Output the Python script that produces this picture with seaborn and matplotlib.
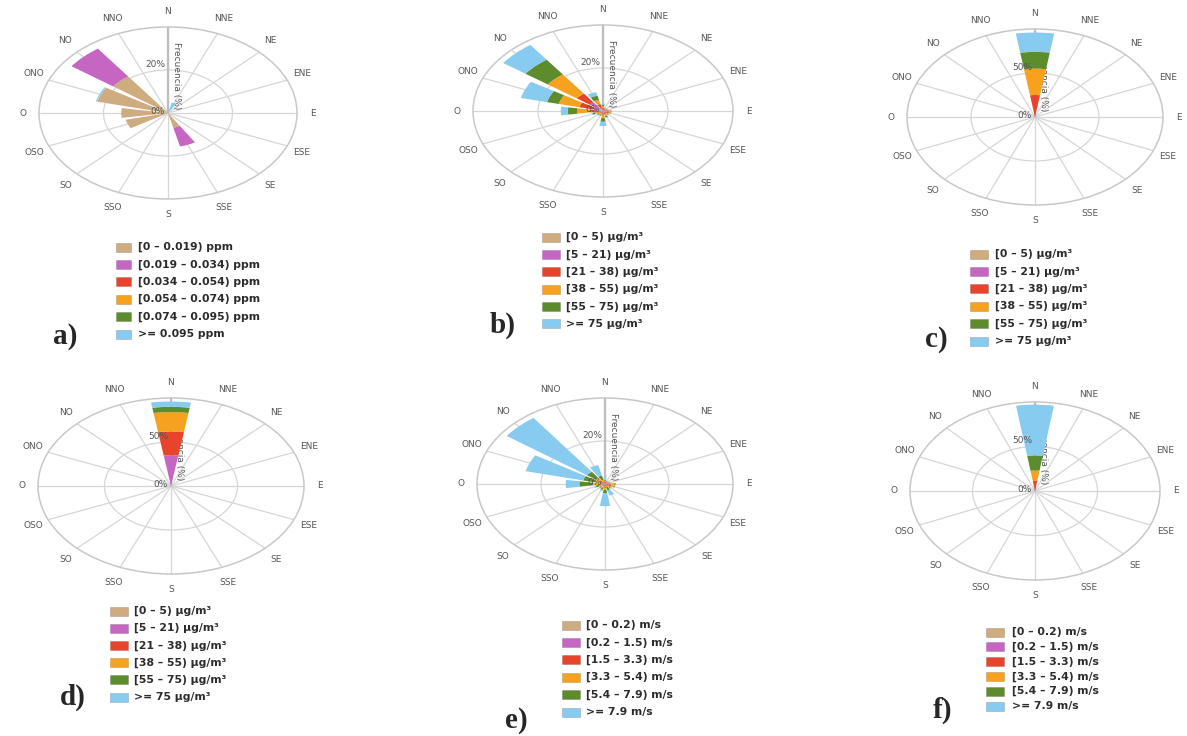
import numpy as np
import matplotlib
matplotlib.use("Agg")
import matplotlib.pyplot as plt
from matplotlib.patches import Rectangle
import seaborn as sns

sns.set_style("white")
plt.rcParams['font.family'] = ['DejaVu Sans']

W, H = 1187, 736

direcciones = ["N", "NNE", "NE", "ENE", "E", "ESE", "SE", "SSE",
               "S", "SSO", "SO", "OSO", "O", "ONO", "NO", "NNO"]
colores = ["#CFAB80", "#C566C3", "#E8432B", "#F6A21E", "#5C8C2C", "#88CBF0"]
paleta = sns.color_palette(colores)

# cada fila: [clase1 .. clase6] en % para la direccion indicada
# a) ppm
a_dirs = ["NNE", "ONO", "NO", "O", "OSO", "SSE"]
a_vals = [[0, 0, 0, 0, 0, 5],
          [22.5, 0, 0, 0, 0, 0.5],
          [21, 16, 0, 0, 0, 0],
          [14.5, 0, 0, 0, 0, 0],
          [13.5, 0, 0, 0, 0, 0],
          [7, 9, 0, 0, 0, 0]]
a_leyenda = ["[0 – 0.019) ppm", "[0.019 – 0.034) ppm", "[0.034 – 0.054) ppm",
             "[0.054 – 0.074) ppm", "[0.074 – 0.095) ppm", ">= 0.095 ppm"]

# b) ug/m3
b_dirs = ["N", "NNE", "NE", "ENE", "E", "ESE", "SE", "SSE", "S", "SSO", "SO", "OSO", "O", "ONO", "NO", "NNO"]
b_vals = [[0.3, 0.5, 0.7, 0.8, 0.5, 0.4],
          [0.2, 0.4, 0.4, 0.3, 0.2, 0],
          [0.2, 0.4, 0.4, 0.3, 0.2, 0],
          [0.2, 0.4, 0.4, 0.3, 0.2, 0],
          [0.3, 0.8, 0.8, 0.5, 0.2, 0],
          [0.3, 0.8, 0.8, 0.5, 0.2, 0],
          [0.3, 0.5, 0.7, 0.5, 0.3, 0],
          [0.3, 0.5, 0.8, 0.8, 0.6, 0.3],
          [0.3, 0.5, 1, 1.5, 1.7, 2],
          [0.2, 0.4, 0.6, 0.6, 0.5, 0.2],
          [0.2, 0.4, 0.6, 0.6, 0.5, 0.2],
          [0.3, 0.5, 0.8, 1, 0.8, 0.3],
          [0.5, 1.5, 2, 4, 2.8, 2.2],
          [1, 2, 4.5, 6.5, 3.7, 8.3],
          [1.5, 3.5, 5, 11, 8.5, 8.5],
          [0.3, 1, 2, 2, 2, 1.7]]
ug_leyenda = ["[0 – 5) µg/m³", "[5 – 21) µg/m³", "[21 – 38) µg/m³",
              "[38 – 55) µg/m³", "[55 – 75) µg/m³", ">= 75 µg/m³"]

# c) ug/m3
c_dirs = ["N"]
c_vals = [[0.5, 1.5, 23, 30, 19, 22]]

# d) ug/m3
d_dirs = ["N"]
d_vals = [[1, 34, 27, 22, 6, 6]]

# e) m/s
e_dirs = ["N", "NNE", "NE", "ENE", "E", "ESE", "SE", "SSE", "S", "SSO", "SO", "OSO", "O", "ONO", "NO", "NNO"]
e_vals = [[0.2, 0.3, 0.5, 0.5, 0.5, 1],
          [0.2, 0.3, 0.4, 0.3, 0.2, 0.2],
          [0.2, 0.3, 0.4, 0.3, 0.2, 0.2],
          [0.2, 0.3, 0.4, 0.3, 0.2, 0.2],
          [0.3, 0.5, 1.2, 1, 0.3, 0],
          [0.3, 0.5, 1.2, 1, 0.3, 0],
          [0.2, 0.3, 0.8, 0.5, 0.5, 0.5],
          [0.2, 0.3, 0.5, 0.5, 1.5, 2.5],
          [0.3, 0.5, 1, 1, 1.5, 6],
          [0.2, 0.3, 0.5, 0.8, 1, 0.5],
          [0.2, 0.3, 0.5, 0.7, 0.5, 0.3],
          [0.2, 0.3, 0.5, 1, 1, 0.5],
          [0.3, 0.5, 1, 2, 4.2, 4.3],
          [0.3, 0.5, 1, 1.7, 3.5, 18.5],
          [0.5, 0.5, 1, 1.5, 3.5, 31],
          [0.2, 0.3, 0.5, 1, 2, 5]]
ms_leyenda = ["[0 – 0.2) m/s", "[0.2 – 1.5) m/s", "[1.5 – 3.3) m/s",
              "[3.3 – 5.4) m/s", "[5.4 – 7.9) m/s", ">= 7.9 m/s"]

# f) m/s
f_dirs = ["N"]
f_vals = [[0.5, 1, 10, 11.5, 17, 57]]


fig = plt.figure(figsize=(W / 100, H / 100), dpi=100)


def rosa(cx, cy, rx, ry, dirs, vals, rmax, anillo):
    ax = fig.add_axes([(cx - rx) / W, 1 - (cy + ry) / H, 2 * rx / W, 2 * ry / H], projection="polar")
    ax.set_theta_zero_location("N")
    ax.set_theta_direction(-1)
    theta = np.radians(np.arange(16) * 22.5)
    tabla = np.zeros((16, 6))
    for d, v in zip(dirs, vals):
        tabla[direcciones.index(d)] = v
    base = np.zeros(16)
    for k in range(6):
        ax.bar(theta, tabla[:, k], width=np.radians(22.5) * 0.8, bottom=base,
               color=paleta[k], linewidth=0, zorder=3)
        base = base + tabla[:, k]
    ax.set_ylim(0, rmax)
    ax.set_yticks([rmax / 2])
    ax.set_yticklabels([])
    ax.set_thetagrids(np.arange(16) * 22.5, labels=direcciones)
    ax.tick_params(axis="x", labelsize=6.5, colors="#555555", pad=1)
    ax.grid(color="#d6d6d6", lw=0.9)
    ax.spines["polar"].set_color("#c8c8c8")
    ax.spines["polar"].set_linewidth(1.1)
    ax.plot([0, 0], [0, rmax], color="#bdbdbd", lw=1.6, zorder=2)
    ax.set_aspect("auto")
    ax.annotate(anillo, xy=(0, rmax / 2), xytext=(-2, 1), textcoords="offset points",
                ha="right", va="bottom", fontsize=6.5, color="#555555", zorder=5)
    ax.annotate("0%", xy=(0, 0), xytext=(-2, 1), textcoords="offset points",
                ha="right", va="center", fontsize=6.5, color="#555555", zorder=5)
    ax.annotate("Frecuencia (%)", xy=(0, rmax * 0.83), xytext=(3, 0), textcoords="offset points",
                ha="left", va="top", rotation=-90, fontsize=6.5, color="#555555", zorder=2.5)
    return ax


def leyenda(sx, sw, tx, y0, dy, etiquetas):
    for k, lab in enumerate(etiquetas):
        y = y0 + k * dy
        fig.patches.append(Rectangle((sx / W, 1 - (y + 4.5) / H), sw / W, 9 / H,
                                     transform=fig.transFigure, facecolor=colores[k],
                                     edgecolor="#00000033", lw=0.5))
        fig.text(tx / W, 1 - y / H, lab, fontsize=7.8, fontweight="bold", color="#2b2b2b", va="center")


def letra(x, y, t):
    fig.text(x / W, 1 - y / H, t, fontsize=21, fontweight="bold",
             family=["Liberation Serif", "DejaVu Serif"], va="center")


rosa(168, 113, 129, 86, a_dirs, a_vals, 40, "20%")
rosa(603, 111, 130, 86, b_dirs, b_vals, 40, "20%")
rosa(1035, 117, 128, 88, c_dirs, c_vals, 100, "50%")
rosa(171, 486, 133, 88, d_dirs, d_vals, 100, "50%")
rosa(605, 484, 128, 86, e_dirs, e_vals, 40, "20%")
rosa(1035, 491, 125, 89, f_dirs, f_vals, 100, "50%")

leyenda(116, 15, 138, 247, 17.4, a_leyenda)
leyenda(542, 18, 566, 237, 17.4, ug_leyenda)
leyenda(970, 18, 995, 254, 17.4, ug_leyenda)
leyenda(110, 18, 134, 611, 17.2, ug_leyenda)
leyenda(562, 18, 586, 625, 17.4, ms_leyenda)
leyenda(986, 18, 1012, 632, 14.8, ms_leyenda)

letra(53, 336, "a)")
letra(490, 325, "b)")
letra(925, 340, "c)")
letra(60, 697, "d)")
letra(505, 720, "e)")
letra(933, 710, "f)")

fig.savefig("out.png", dpi=100)
